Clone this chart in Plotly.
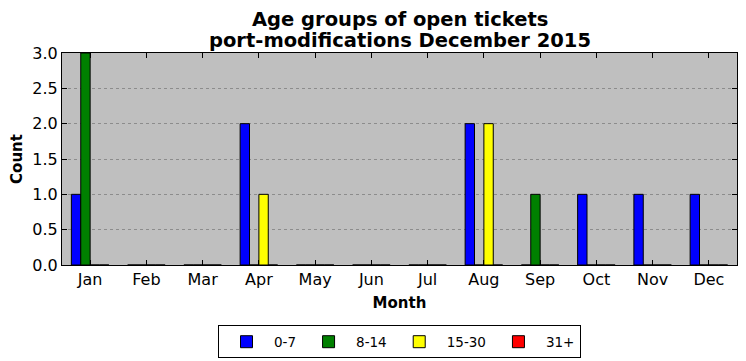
import plotly.graph_objects as go

months = ["Jan", "Feb", "Mar", "Apr", "May", "Jun", "Jul", "Aug", "Sep", "Oct", "Nov", "Dec"]
age_0_7 = [1, 0, 0, 2, 0, 0, 0, 2, 0, 1, 1, 1]
age_8_14 = [3, 0, 0, 0, 0, 0, 0, 0, 1, 0, 0, 0]
age_15_30 = [0, 0, 0, 1, 0, 0, 0, 2, 0, 0, 0, 0]
age_31_plus = [0, 0, 0, 0, 0, 0, 0, 0, 0, 0, 0, 0]
title_lines = ["Age groups of open tickets", "port-modifications December 2015"]

series = [("0-7", age_0_7, "#0000ff"), ("8-14", age_8_14, "#008000"),
          ("15-30", age_15_30, "#ffff00"), ("31+", age_31_plus, "#ff0000")]

fig = go.Figure()
for name, vals, col in series:
    fig.add_trace(go.Bar(x=months, y=vals, name=name, marker=dict(color=col, line=dict(color="black", width=1))))

font = "DejaVu Sans"
# page body adds an 8px offset; figure sized to compensate
W, H = 738, 353
L, R, T, B = 54, 9, 45, 96
ph = H - T - B
fig.update_layout(
    width=W, height=H,
    margin=dict(l=L, r=R, t=T, b=B, autoexpand=False),
    paper_bgcolor="white", plot_bgcolor="#bfbfbf",
    barmode="group", bargap=1/3, bargroupgap=0,
    font=dict(family=font, size=16, color="black"),
    legend=dict(orientation="h", x=0.5, xanchor="center", y=-0.285, yanchor="top",
                bordercolor="black", borderwidth=1, font=dict(size=13.5), itemwidth=45),
    showlegend=True,
)
fig.add_annotation(text="<b>" + title_lines[0] + "</b>", xref="paper", yref="paper", x=0.5, y=1 + (T - 11.5) / ph,
                   yanchor="middle", xanchor="center", showarrow=False, font=dict(size=19.5))
fig.add_annotation(text="<b>" + title_lines[1] + "</b>", xref="paper", yref="paper", x=0.5, y=1 + (T - 32.5) / ph,
                   yanchor="middle", xanchor="center", showarrow=False, font=dict(size=19.5))
fig.update_xaxes(range=[-0.5, 11.5], showline=True, linecolor="black", linewidth=1, mirror="ticks",
                 ticks="inside", ticklen=5, tickcolor="black", showgrid=False, automargin=False,
                 title=dict(text="<b>Month</b>", font=dict(size=15), standoff=9))
fig.update_yaxes(range=[0, 3], dtick=0.5, tickformat=".1f", showline=True, linecolor="black", linewidth=1,
                 mirror="ticks", ticks="inside", ticklen=5, tickcolor="black", automargin=False,
                 showgrid=True, gridcolor="#8c8c8c", griddash="dot", gridwidth=1, zeroline=False,
                 title=dict(text="<b>Count</b>", font=dict(size=15), standoff=6))
fig.write_html("out.html")
